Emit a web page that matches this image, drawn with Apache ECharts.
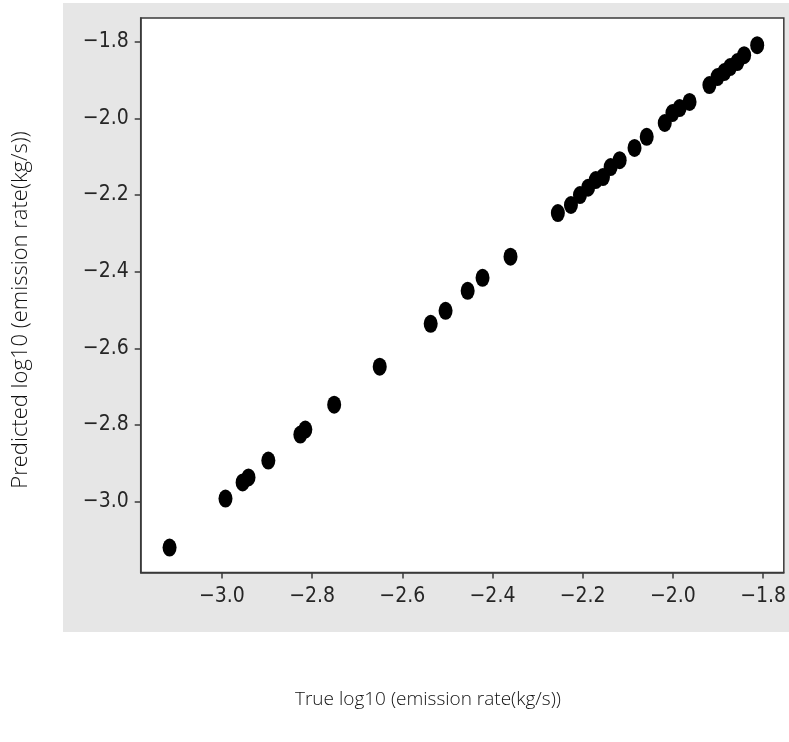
<!DOCTYPE html>
<html>
<head>
<meta charset="utf-8">
<script src="https://cdn.jsdelivr.net/npm/echarts@6/dist/echarts.min.js"></script>
<style>
html,body{margin:0;padding:0;background:#fff;}
#chart{width:789px;height:742px;}
</style>
</head>
<body>
<div id="chart"></div>
<script>
// True log10 emission rate (x) and predicted log10 emission rate (y)
var trueValues = [
  -3.116, -2.992, -2.954, -2.941, -2.897, -2.826, -2.815, -2.751, -2.650,
  -2.537, -2.504, -2.455, -2.422, -2.360, -2.255, -2.226, -2.206, -2.188,
  -2.171, -2.155, -2.138, -2.118, -2.085, -2.058, -2.018, -2.001, -1.985,
  -1.963, -1.919, -1.901, -1.886, -1.873, -1.857, -1.842, -1.813
];
var predictedValues = [
  -3.120, -2.992, -2.950, -2.937, -2.893, -2.825, -2.812, -2.747, -2.648,
  -2.536, -2.502, -2.450, -2.416, -2.361, -2.247, -2.226, -2.200, -2.181,
  -2.161, -2.153, -2.127, -2.109, -2.077, -2.048, -2.012, -1.986, -1.973,
  -1.957, -1.913, -1.892, -1.879, -1.866, -1.853, -1.835, -1.809
];
var xTicks = [-3.0, -2.8, -2.6, -2.4, -2.2, -2.0, -1.8];
var yTicks = [-3.0, -2.8, -2.6, -2.4, -2.2, -2.0, -1.8];
var xLabel = 'True log10 (emission rate(kg/s))';
var yLabel = 'Predicted log10 (emission rate(kg/s))';

var points = trueValues.map(function (v, i) { return [v, predictedValues[i]]; });

function fmt(v) {
  var s = Math.abs(v).toFixed(1);
  return (v < 0 ? '\u2212' : '') + s;
}

var tickFont = {
  fontFamily: '"DejaVu Sans Condensed", "DejaVu Sans", sans-serif',
  fontSize: 21,
  color: '#262626'
};
var nameFamily = '"Open Sans", "Noto Sans", sans-serif';

var chart = echarts.init(document.getElementById('chart'), null, {renderer: 'canvas'});
chart.setOption({
  animation: false,
  backgroundColor: '#ffffff',
  graphic: [{
    type: 'rect',
    z: -10,
    silent: true,
    shape: {x: 63, y: 3, width: 726, height: 629},
    style: {fill: '#e6e6e6'}
  }, {
    type: 'text',
    silent: true,
    x: 428, y: 700,
    style: {
      text: xLabel, fontFamily: nameFamily, fontSize: 19, fontWeight: 300,
      fill: '#111', align: 'center', verticalAlign: 'middle'
    }
  }, {
    type: 'text',
    silent: true,
    x: 21, y: 310,
    rotation: Math.PI / 2,
    style: {
      text: yLabel, fontFamily: nameFamily, fontSize: 22, fontWeight: 300,
      fill: '#111', align: 'center', verticalAlign: 'middle'
    }
  }],
  grid: {
    left: 140.7, top: 18, right: 2.3, bottom: 169.5,
    show: true,
    backgroundColor: '#ffffff',
    borderColor: '#3a3a3a',
    borderWidth: 1.5,
    containLabel: false
  },
  xAxis: {
    type: 'value',
    min: -3.180, max: -1.754,
    axisLine: {show: true, onZero: false, lineStyle: {color: '#3a3a3a', width: 1.5}},
    axisTick: {show: true, length: 6, inside: false, customValues: xTicks, lineStyle: {color: '#3a3a3a', width: 1.5}},
    axisLabel: Object.assign({show: true, margin: 14, customValues: xTicks, formatter: fmt}, tickFont),
    splitLine: {show: false}
  },
  yAxis: {
    type: 'value',
    min: -3.185, max: -1.738,
    axisLine: {show: true, onZero: false, lineStyle: {color: '#3a3a3a', width: 1.5}},
    axisTick: {show: true, length: 6, inside: false, customValues: yTicks, lineStyle: {color: '#3a3a3a', width: 1.5}},
    axisLabel: Object.assign({show: true, margin: 12, customValues: yTicks, formatter: fmt}, tickFont),
    splitLine: {show: false}
  },
  series: [{
    type: 'scatter',
    data: points,
    symbol: 'circle',
    symbolSize: [14, 18],
    itemStyle: {color: '#000000', opacity: 1},
    clip: false
  }]
});
</script>
</body>
</html>
